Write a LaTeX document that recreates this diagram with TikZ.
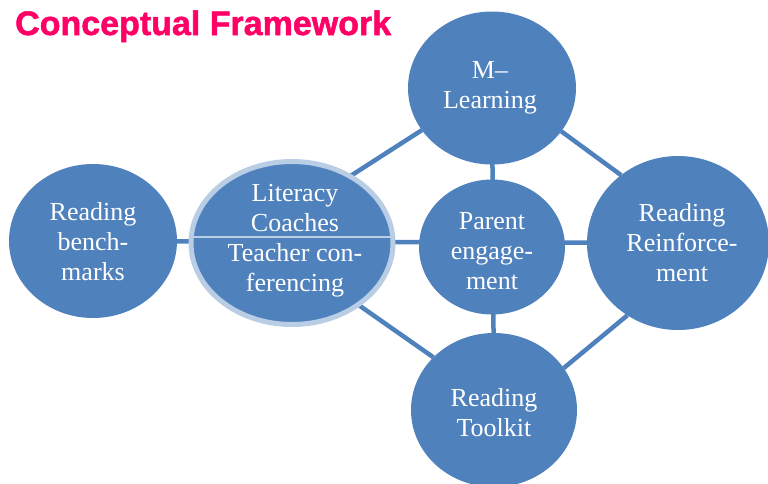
\documentclass[tikz,border=0pt]{standalone}
\usepackage{fontspec}
\setmainfont{Liberation Serif}
\newfontfamily\titlefont[BoldFeatures={FakeBold=1.5}]{Liberation Sans}
\usetikzlibrary{shapes.geometric}
\definecolor{nodeblue}{HTML}{4F81BD}
\definecolor{ringblue}{HTML}{B9CDE5}
\definecolor{titlepink}{HTML}{FF0066}
\pgfdeclarelayer{background}
\pgfsetlayers{background,main}
\begin{document}
\begin{tikzpicture}[x=1pt,y=-1pt,
  bubble/.style={ellipse, fill=nodeblue, inner sep=0pt, outer sep=0pt},
  ringbubble/.style={bubble, draw=ringblue, line width=5pt},
  txt/.style={text=white, align=center, inner sep=0pt, font=\fontsize{26}{30}\selectfont},
  link/.style={draw=nodeblue, line width=4.5pt},
  titletxt/.style={text=titlepink, anchor=base west, inner sep=0pt, font=\titlefont\bfseries\fontsize{34}{36}\selectfont}]
\useasboundingbox (0,0) rectangle (768,483);
\clip (0,0) rectangle (768,483);
% circles
\node[bubble, minimum width=168pt, minimum height=153pt] (ml) at (492,88) {};
\node[bubble, minimum width=168pt, minimum height=154pt] (rb) at (93,241) {};
\node[ringbubble, minimum width=202pt, minimum height=163pt] (lc) at (292,243) {};
\node[bubble, minimum width=146pt, minimum height=135pt] (pe) at (492,247) {};
\node[bubble, minimum width=182pt, minimum height=174pt] (rr) at (678,243) {};
\node[bubble, minimum width=166pt, minimum height=154pt] (rt) at (494,410) {};
% connectors behind the circles
\begin{pgfonlayer}{background}
\draw[link] (rb.center) -- (rr.center);
\draw[link] (ml.center) -- (rt.center);
\draw[link] (lc.49) -- (ml.211);
\draw[link] (ml.328) -- (rr.130);
\draw[link] (lc.317) -- (rt.139);
\draw[link] (rr.235) -- (rt.31);
\end{pgfonlayer}
\draw[ringblue, line width=1.5pt] ([yshift=6pt]lc.west) -- ([yshift=6pt]lc.east);
% texts
\node[txt] (mlt) at (490,88) {M–\\Learning};
\node[txt] (rbt) at (93,242) {Reading\\bench-\\marks};
\node[txt] (lct) at (295,241) {Literacy\\Coaches\\Teacher con-\\ferencing};
\node[txt] (pet) at (492,251) {Parent\\engage-\\ment};
\node[txt] (rrt) at (682,243) {Reading\\Reinforce-\\ment};
\node[txt] (rtt) at (494,413) {Reading\\Toolkit};
\node[titletxt] (title) at (15,35) {Conceptual Framework};
\end{tikzpicture}
\end{document}
